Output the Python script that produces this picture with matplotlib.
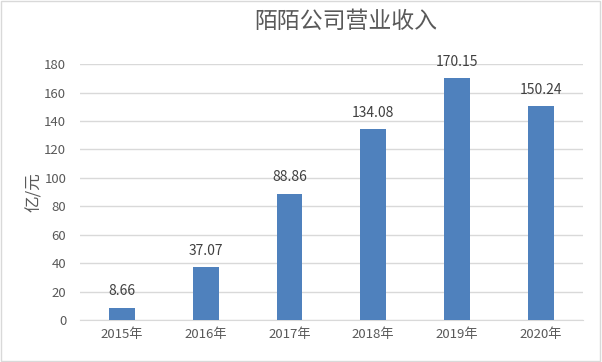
import matplotlib.pyplot as plt
import matplotlib.patches as patches

plt.rcParams['font.family'] = ['Noto Sans CJK SC', 'DejaVu Sans']

years = ["2015年", "2016年", "2017年", "2018年", "2019年", "2020年"]
revenue = [8.66, 37.07, 88.86, 134.08, 170.15, 150.24]
y_ticks = [0, 20, 40, 60, 80, 100, 120, 140, 160, 180]

fig = plt.figure(figsize=(6.02, 3.62), dpi=100)
ax = fig.add_axes([0.133, 0.116, 0.835, 0.707])

x = range(len(years))
ax.bar(x, revenue, width=0.31, color="#4f81bd", zorder=3)
for i, v in zip(x, revenue):
    ax.text(i, v + 6.5, f"{v:.2f}", ha="center", va="bottom",
            fontsize=10, color="#404040")

ax.set_xlim(-0.5, len(years) - 0.5)
ax.set_ylim(0, 180)
ax.set_yticks(y_ticks)
ax.set_xticks(list(x))
ax.set_xticklabels(years)
ax.tick_params(axis="both", length=0, labelsize=9.5, labelcolor="#595959")
ax.tick_params(axis="y", pad=10)
ax.tick_params(axis="x", pad=6)
ax.grid(axis="y", color="#d9d9d9", linewidth=1, zorder=0)
for s in ["top", "right", "left"]:
    ax.spines[s].set_visible(False)
ax.spines["bottom"].set_color("#d9d9d9")

ax.set_ylabel("亿/元", fontsize=12, color="#595959", labelpad=1)
fig.text(0.575, 0.94, "陌陌公司营业收入", ha="center", va="center",
         fontsize=16.5, color="#595959")

fig.patches.append(patches.Rectangle((0.002, 0.003), 0.995, 0.993,
                                     transform=fig.transFigure, fill=False,
                                     edgecolor="#d9d9d9", linewidth=1))

fig.savefig("out.png", dpi=100)
